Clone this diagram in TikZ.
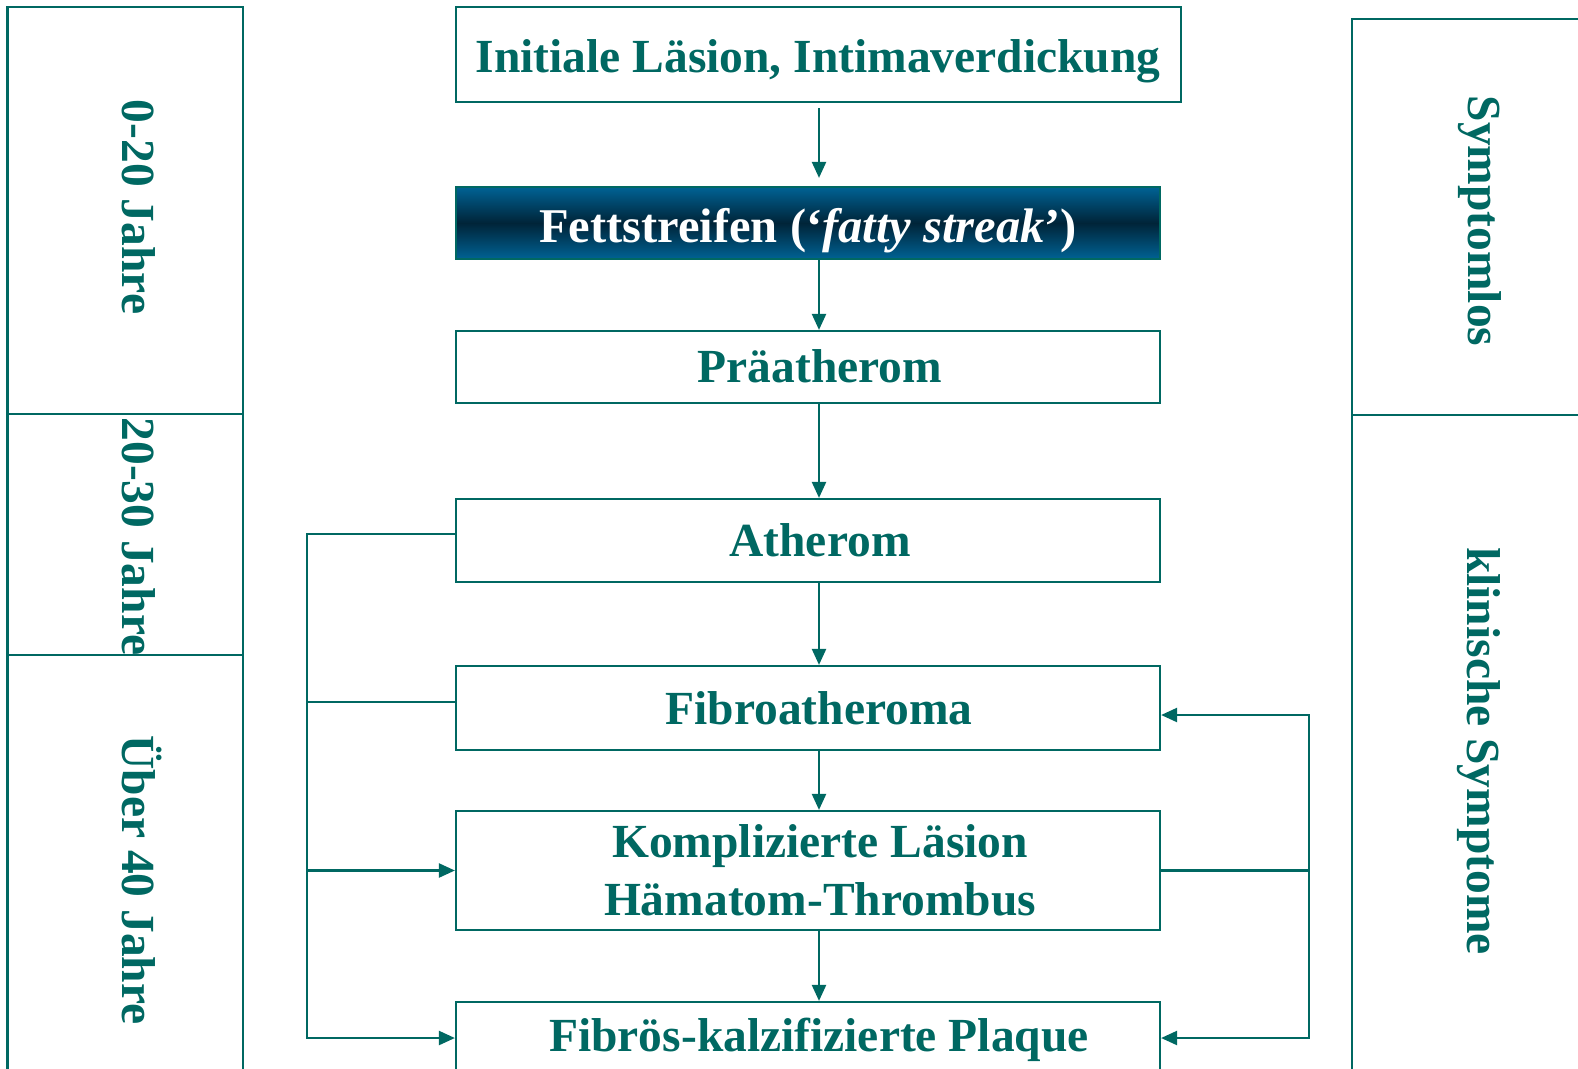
\documentclass[tikz,border=0pt]{standalone}
\usepackage{fontspec}
\setmainfont{Liberation Serif}
\usetikzlibrary{arrows.meta}
\definecolor{lesion}{RGB}{0,104,98}
\definecolor{streakblue}{RGB}{0,98,148}
\definecolor{streakdark}{RGB}{0,36,56}

\begin{document}
\begin{tikzpicture}[x=1pt,y=-1pt,>={Triangle[length=16pt,width=14pt]},
  every node/.style={font=\fontsize{47.5}{58}\selectfont\bfseries,text=lesion,inner sep=0pt},
  stage/.style={draw=lesion,line width=2.2pt,minimum width=704pt},
  link/.style={draw=lesion,line width=2.3pt},
  side/.style={rotate=-90,anchor=base}]
\useasboundingbox (0,0) rectangle (1578,1068);
\clip (0,0) rectangle (1578,1068);
% stages
\node[stage,minimum width=725pt,minimum height=95pt] (b1) at (818.5,54.5) {};
\node[stage,minimum height=72pt,top color=streakblue,bottom color=streakblue,middle color=streakdark] (b2) at (808,223) {};
\node[stage,minimum height=72pt] (b3) at (808,367) {};
\node[stage,minimum height=83pt] (b4) at (808,540.5) {};
\node[stage,minimum height=84pt] (b5) at (808,708) {};
\node[stage,minimum height=119pt] (b6) at (808,870.5) {};
\node[stage,minimum height=72pt] (b7) at (808,1038) {};
\node[anchor=base] (t1) at (818,72) {Initiale Läsion, Intimaverdickung};
\node[anchor=base,text=white,font=\fontsize{48.5}{58}\selectfont\bfseries] (t2) at (808,242) {Fettstreifen (‘\textit{fatty streak}’)};
\node[anchor=base] (t3) at (820,382) {Präatherom};
\node[anchor=base] (t4) at (820,556.5) {Atherom};
\node[anchor=base] (t5) at (819,724) {Fibroatheroma};
\node[align=center] (t6) at (820,870) {Komplizierte Läsion\\Hämatom-Thrombus};
\node[anchor=base] (t7) at (819,1051) {Fibrös-kalzifizierte Plaque};
% arrows down the middle
\coordinate (ax) at (819,0);
\draw[link,->,shorten <=5pt,shorten >=8pt] (b1.south -| ax) -- (b2.north -| ax);
\foreach \a/\b in {b2/b3,b3/b4,b4/b5,b5/b6,b6/b7}
    \draw[link,->] (\a.south -| ax) -- (\b.north -| ax);
% side connections
\coordinate (lx) at (307,0);
\coordinate (rx) at (1309,0);
\coordinate (f4) at ([yshift=6.5pt]b4.west);
\coordinate (f5) at ([yshift=6pt]b5.west);
\coordinate (g5) at ([yshift=-7pt]b5.east);
\draw[link,->] (f4) -| (lx |- b7.west) -- (b7.west);
\draw[link] (f5) -- (f5 -| lx);
\draw[link,->] (lx |- b6.west) -- (b6.west);
\draw[link,<->] (g5) -| (rx |- b7.east) -- (b7.east);
\draw[link] (b6.east) -- (rx |- b6.east);
% age column
\node[side] (age1) at (122,207) {0-20 Jahre};
\node[side] (age2) at (122,536.5) {20-30 Jahre};
\node[side] (age3) at (122,880) {Über 40 Jahre};
\draw[link] (7.5,1080) |- (243,7) -- (243,1080);
\draw[link] (7.5,414) -- (243,414);
\draw[link] (7.5,655) -- (243,655);
% symptom column
\node[side] (sym1) at (1468,221) {Symptomlos};
\node[side] (sym2) at (1467,751) {klinische Symptome};
\draw[link] (1352,1080) |- (1590,19);
\draw[link] (1352,415) -- (1590,415);
\end{tikzpicture}
\end{document}
